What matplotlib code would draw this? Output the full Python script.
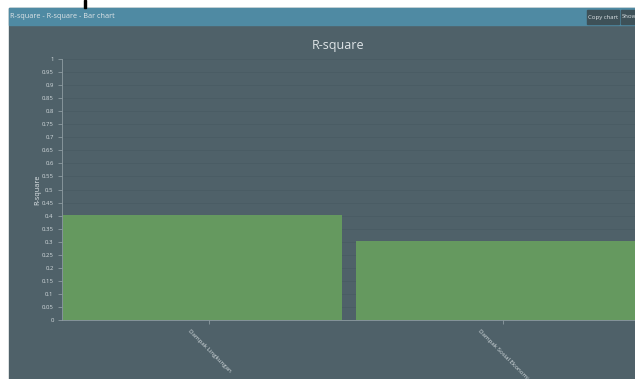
import matplotlib.pyplot as plt
from matplotlib.patches import Rectangle

# data
categories = ['Dampak Lingkungan', 'Dampak Sosial Ekonomi']
r_square = [0.401, 0.303]
y_ticks = [i * 0.05 for i in range(21)]
y_tick_labels = ['0', '0.05', '0.1', '0.15', '0.2', '0.25', '0.3', '0.35', '0.4', '0.45', '0.5',
                 '0.55', '0.6', '0.65', '0.7', '0.75', '0.8', '0.85', '0.9', '0.95', '1']

W, H = 635, 379
panel = '#4f6169'
header = '#4f8aa3'
bar_col = '#65995f'
txt = '#dfe5e8'

plt.rcParams['font.family'] = ['Open Sans', 'DejaVu Sans']

fig = plt.figure(figsize=(W / 100, H / 100), dpi=100)
fig.patch.set_facecolor('white')

# background panel and header bar (figure pixel coords)
def px_rect(x0, y0, x1, y1, color):
    fig.patches.append(Rectangle((x0 / W, 1 - y1 / H), (x1 - x0) / W, (y1 - y0) / H,
                                 transform=fig.transFigure, color=color, zorder=-5))

px_rect(9, 8, W, H, panel)
px_rect(9, 8, W, 25, header)
px_rect(84, 0, 86, 8, 'black')
# buttons
px_rect(587, 10, 619, 24, '#3e5158')
px_rect(621, 10, W, 24, '#3e5158')
fig.text(10 / W, 1 - 16.5 / H, 'R-square - R-square - Bar chart', color=txt, fontsize=5.2, va='center')
fig.text(603 / W, 1 - 17 / H, 'Copy chart', color=txt, fontsize=4.3, va='center', ha='center')
fig.text(622 / W, 1 - 17 / H, 'Show', color=txt, fontsize=4.3, va='center', ha='left')

# axes: left 62px, right 635px, top 59px, bottom 320px
ax = fig.add_axes([62 / W, 1 - 320 / H, (W - 62) / W, (320 - 59) / H])
ax.set_zorder(3)
ax.set_facecolor('none')
xs = list(range(len(categories)))
ax.bar([x - 0.5 for x in xs], r_square, width=0.953, align='edge', color=bar_col, zorder=3)
ax.set_xlim(-0.502, 1.45)
ax.set_ylim(0, 1)

ax.set_yticks(y_ticks)
ax.set_yticklabels(y_tick_labels)
ax.set_xticks(xs)
ax.set_xticklabels(categories, rotation=-45, ha='center', va='top')
ax.tick_params(axis='y', colors='#8e9ca2', labelcolor='#d5dcdf', labelsize=4.3, length=3, width=0.6, pad=3)
ax.tick_params(axis='x', colors='#8e9ca2', labelcolor='#d5dcdf', labelsize=4.4, length=3, width=0.6, pad=3)
ax.grid(axis='y', color='#4a5c64', linewidth=0.6, zorder=0)

for s in ['top', 'right']:
    ax.spines[s].set_visible(False)
for s in ['left', 'bottom']:
    ax.spines[s].set_color('#8e9ca2')
    ax.spines[s].set_linewidth(0.6)

ax.set_ylabel('R-square', color=txt, fontsize=5.2)
ax.yaxis.set_label_coords(-21 / (W - 62), 0.5)
fig.text(338 / W, 1 - 45 / H, 'R-square', color=txt, fontsize=9, ha='center', va='center')

fig.savefig('out.png', dpi=100, facecolor=fig.get_facecolor())
